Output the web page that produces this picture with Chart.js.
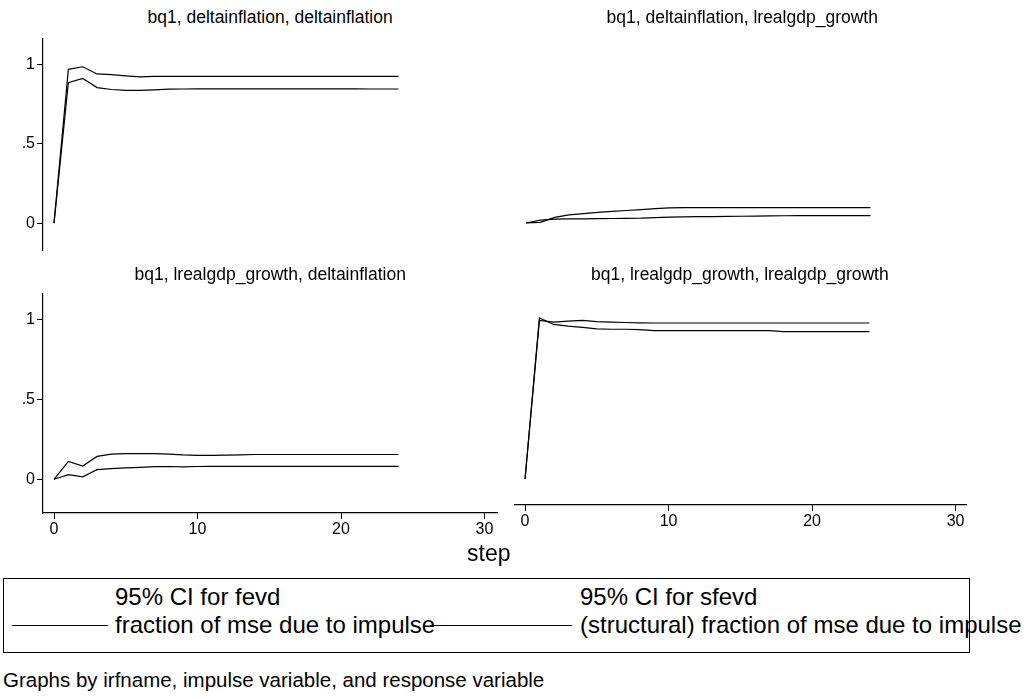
<!DOCTYPE html>
<html>
<head>
<meta charset="utf-8">
<script src="https://cdn.jsdelivr.net/npm/chart.js@4.4.1/dist/chart.umd.min.js"></script>
<style>
  body { margin: 0; background: #fff; width: 1026px; height: 698px; position: relative; overflow: hidden;
         font-family: "Liberation Sans", Arial, sans-serif; color: #000; }
  canvas { position: absolute; }
  .txt { position: absolute; white-space: nowrap; line-height: 1; }
  .key { position: absolute; height: 0; border-top: 1.5px solid #000; }
  #box { position: absolute; left: 3px; top: 578px; width: 965px; height: 73px; border: 1.5px solid #000; }
</style>
</head>
<body>

<canvas id="tl" width="507" height="235" style="left:0px; top:27px"></canvas>
<canvas id="tr" width="474" height="228" style="left:505px; top:27px"></canvas>
<canvas id="bl" width="507" height="271" style="left:0px; top:282px"></canvas>
<canvas id="br" width="471" height="263" style="left:505px; top:282px"></canvas>

<div class="txt" id="t0" style="top:9px"></div>
<div class="txt" id="t1" style="top:9px"></div>
<div class="txt" id="t2" style="top:266px"></div>
<div class="txt" id="t3" style="top:266px"></div>

<div class="txt" style="left:467px; top:542px; font-size:23px">step</div>

<div id="box"></div>
<div class="txt" style="left:115px; top:585px; font-size:24px">95% CI for fevd</div>
<div class="txt" style="left:580px; top:585px; font-size:24px">95% CI for sfevd</div>
<div class="key" style="left:12px; top:625px; width:96px"></div>
<div class="txt" style="left:115px; top:613px; font-size:24px">fraction of mse due to impulse</div>
<div class="key" style="left:430px; top:625px; width:142px"></div>
<div class="txt" style="left:580px; top:613px; font-size:24px">(structural) fraction of mse due to impulse</div>

<div class="txt" style="left:3px; top:670px; font-size:20.5px">Graphs by irfname, impulse variable, and response variable</div>

<script>
'use strict';

// data

let steps = [0, 1, 2, 3, 4, 5, 6, 7, 8, 9, 10, 11, 12, 13, 14, 15, 16, 17, 18, 19, 20, 21, 22, 23, 24];

let panelTitles = [
  'bq1, deltainflation, deltainflation',
  'bq1, deltainflation, lrealgdp_growth',
  'bq1, lrealgdp_growth, deltainflation',
  'bq1, lrealgdp_growth, lrealgdp_growth'
];

// deltainflation -> deltainflation
let tlFevd = [0, 0.969, 0.985, 0.94, 0.935, 0.928, 0.922, 0.924, 0.925, 0.925, 0.925, 0.925, 0.925,
  0.925, 0.925, 0.925, 0.925, 0.925, 0.925, 0.925, 0.925, 0.925, 0.925, 0.925, 0.925];
let tlSfevd = [0, 0.885, 0.912, 0.854, 0.842, 0.836, 0.836, 0.84, 0.844, 0.845, 0.846, 0.846, 0.846,
  0.846, 0.846, 0.846, 0.846, 0.846, 0.846, 0.846, 0.846, 0.846, 0.845, 0.845, 0.845];

// deltainflation -> lrealgdp_growth
let trFevd = [0, 0.004, 0.035, 0.05, 0.058, 0.066, 0.072, 0.078, 0.084, 0.09, 0.094, 0.096, 0.096,
  0.096, 0.096, 0.096, 0.096, 0.096, 0.096, 0.096, 0.096, 0.096, 0.096, 0.096, 0.096];
let trSfevd = [0, 0.018, 0.024, 0.025, 0.026, 0.027, 0.028, 0.029, 0.03, 0.033, 0.036, 0.038, 0.04,
  0.04, 0.041, 0.042, 0.043, 0.044, 0.045, 0.046, 0.046, 0.046, 0.046, 0.046, 0.046];

// lrealgdp_growth -> deltainflation
let blFevd = [0, 0.112, 0.083, 0.143, 0.157, 0.16, 0.16, 0.16, 0.157, 0.152, 0.15, 0.15, 0.151,
  0.153, 0.155, 0.155, 0.155, 0.155, 0.155, 0.155, 0.155, 0.155, 0.155, 0.155, 0.155];
let blSfevd = [0, 0.029, 0.015, 0.06, 0.066, 0.071, 0.075, 0.079, 0.08, 0.078, 0.08, 0.081, 0.081,
  0.081, 0.081, 0.081, 0.081, 0.081, 0.081, 0.081, 0.081, 0.081, 0.081, 0.081, 0.081];

// lrealgdp_growth -> lrealgdp_growth
let brFevd = [0, 0.985, 0.975, 0.98, 0.985, 0.978, 0.975, 0.972, 0.97, 0.969, 0.969, 0.969, 0.969,
  0.969, 0.969, 0.969, 0.969, 0.969, 0.969, 0.969, 0.969, 0.969, 0.969, 0.969, 0.969];
let brSfevd = [0, 1.0, 0.96, 0.95, 0.942, 0.932, 0.93, 0.93, 0.928, 0.922, 0.921, 0.921, 0.921,
  0.921, 0.921, 0.921, 0.921, 0.921, 0.915, 0.915, 0.915, 0.915, 0.915, 0.915, 0.915];

let xTicks = [0, 10, 20, 30];
let yTicks = [0, 0.5, 1];

// helpers

let tickFont = { family: '"Liberation Sans", Arial, sans-serif', size: 16 };

function toPoints(values) {
  return steps.map(function (s, i) { return { x: s, y: values[i] }; });
}

function lineSet(label, values) {
  return {
    label: label,
    data: toPoints(values),
    borderColor: '#000',
    borderWidth: 1.2,
    pointRadius: 0,
    tension: 0,
    fill: false
  };
}

function makePanel(id, fevd, sfevd, p) {
  let ctx = document.getElementById(id);
  return new Chart(ctx, {
    type: 'line',
    data: { datasets: [lineSet('fevd', fevd), lineSet('sfevd', sfevd)] },
    options: {
      responsive: false,
      animation: false,
      events: [],
      layout: { padding: p.pad },
      plugins: { legend: { display: false }, tooltip: { enabled: false } },
      scales: {
        x: {
          type: 'linear',
          display: p.showX,
          min: p.xMin,
          max: p.xMax,
          afterBuildTicks: function (s) { s.ticks = xTicks.map(function (v) { return { value: v }; }); },
          afterFit: function (s) { if (p.showX) s.height = 40; },
          ticks: { font: tickFont, color: '#000', padding: 1, maxRotation: 0, autoSkip: false },
          grid: { drawOnChartArea: false, drawTicks: true, tickLength: 6, color: '#000', lineWidth: 1 },
          border: { display: true, color: '#000', width: 1.2 }
        },
        y: {
          type: 'linear',
          display: p.showY,
          min: p.yMin,
          max: p.yMax,
          afterBuildTicks: function (s) { s.ticks = yTicks.map(function (v) { return { value: v }; }); },
          afterFit: function (s) { if (p.showY) s.width = 43; },
          ticks: {
            font: tickFont, color: '#000', padding: 2,
            callback: function (v) { return v === 0.5 ? '.5' : String(v); }
          },
          grid: { drawOnChartArea: false, drawTicks: true, tickLength: 6, color: '#000', lineWidth: 1 },
          border: { display: true, color: '#000', width: 1.2 }
        }
      }
    }
  });
}

// panels

makePanel('tl', tlFevd, tlSfevd, {
  pad: { top: 10, right: 10, bottom: 12, left: 0 },
  showX: false, showY: true, xMin: -0.767, xMax: 30.87, yMin: -0.169, yMax: 1.1625
});
makePanel('tr', trFevd, trSfevd, {
  pad: { top: 10, right: 10, bottom: 5, left: 10 },
  showX: false, showY: false, xMin: -0.767, xMax: 30.87, yMin: -0.169, yMax: 1.1625
});
makePanel('bl', blFevd, blSfevd, {
  pad: { top: 10, right: 10, bottom: 0, left: 0 },
  showX: true, showY: true, xMin: -0.767, xMax: 30.87, yMin: -0.211, yMax: 1.1615
});
makePanel('br', brFevd, brSfevd, {
  pad: { top: 10, right: 10, bottom: 0, left: 10 },
  showX: true, showY: false, xMin: -0.70, xMax: 30.73, yMin: -0.1615, yMax: 1.1615
});

// panel titles, centred over each plot area

let titleCentres = [270, 742, 270, 740];
for (let i = 0; i < panelTitles.length; i++) {
  let el = document.getElementById('t' + i);
  el.textContent = panelTitles[i];
  el.style.fontSize = '17.5px';
  el.style.left = (titleCentres[i] - el.offsetWidth / 2) + 'px';
}
</script>
</body>
</html>
